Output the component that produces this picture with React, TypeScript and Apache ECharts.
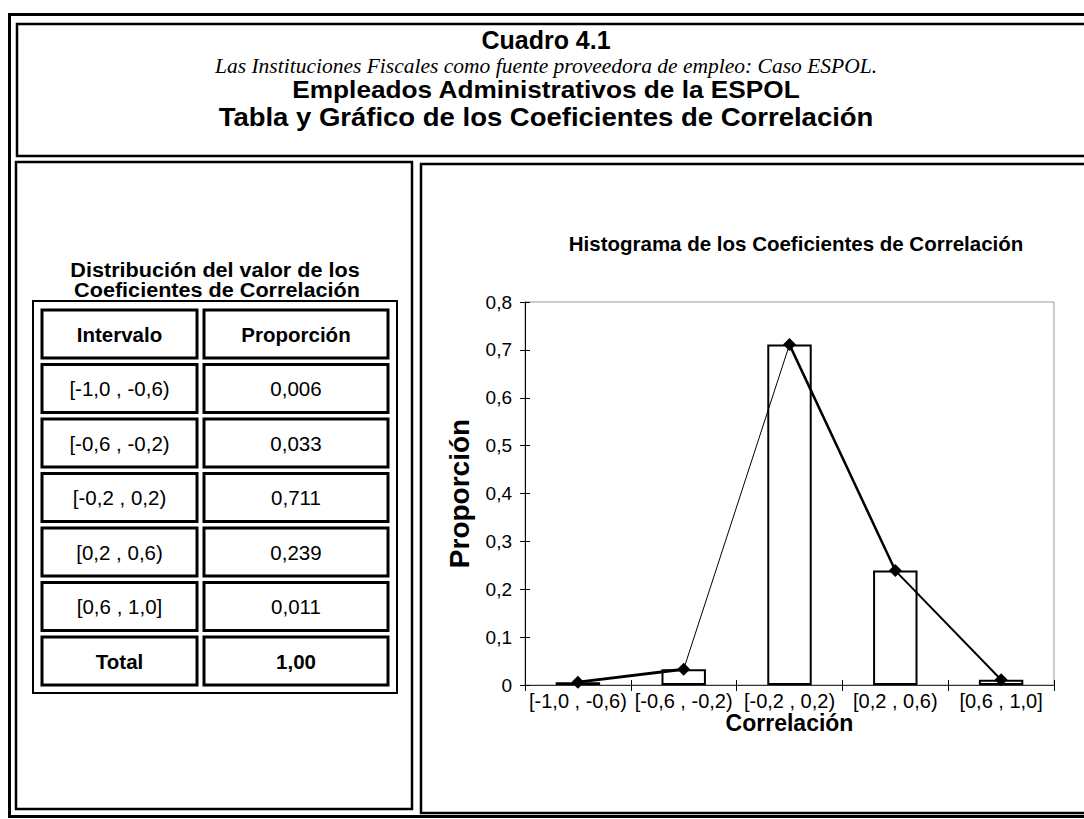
import React, { useEffect, useRef } from "react";
import * as echarts from "echarts";

const categories = ["[-1,0 , -0,6)", "[-0,6 , -0,2)", "[-0,2 , 0,2)", "[0,2 , 0,6)", "[0,6 , 1,0]"];
const proportions = [0.006, 0.033, 0.711, 0.239, 0.011];
const totalLabel = "1,00";
const tableHeader = ["Intervalo", "Proporción"];
const segmentWidths = [3, 1, 2.5, 2];

const titleLines = [
  "Cuadro 4.1",
  "Las Instituciones Fiscales como fuente proveedora de empleo: Caso ESPOL.",
  "Empleados Administrativos de la ESPOL",
  "Tabla y Gráfico de los Coeficientes de Correlación",
];
const tableTitle = ["Distribución del valor de los", "Coeficientes de Correlación"];
const chartTitle = "Histograma de los Coeficientes de Correlación";

const SANS = "'Liberation Sans', Arial, sans-serif";
const SERIF = "'Liberation Serif', 'Times New Roman', serif";

const fmt = (v: number, d: number) => (v === 0 ? "0" : v.toFixed(d).replace(".", ","));

function txt(
  text: string,
  x: number,
  y: number,
  size: number,
  weight = "normal",
  family = SANS,
  style = "normal",
  scaleX = 1
) {
  return {
    type: "text",
    x,
    y,
    scaleX,
    z: 10,
    style: {
      text,
      fontSize: size,
      fontWeight: weight,
      fontFamily: family,
      fontStyle: style,
      fill: "#000",
      align: "center",
      verticalAlign: "middle",
    },
  };
}

function box(x: number, y: number, w: number, h: number, lw: number) {
  return {
    type: "rect",
    shape: { x, y, width: w, height: h },
    style: { fill: "none", stroke: "#000", lineWidth: lw },
    z: 5,
  };
}

export default function App() {
  const ref = useRef<HTMLDivElement>(null);
  useEffect(() => {
    if (!ref.current) return;
    const chart = echarts.init(ref.current, undefined, { renderer: "svg" });

    const graphics: any[] = [];
    // frames
    graphics.push(box(9.5, 14.5, 1100, 802, 3));
    graphics.push(box(17, 24, 1100, 132, 2.5));
    graphics.push(box(16, 162, 396, 647, 2.5));
    graphics.push(box(421, 164, 700, 649, 2.5));

    // title lines
    const cx = 546;
    graphics.push(txt(titleLines[0], cx, 40, 25, "bold"));
    graphics.push(txt(titleLines[1], cx, 66, 21.5, "normal", SERIF, "italic"));
    graphics.push(txt(titleLines[2], cx, 90, 23, "bold", SANS, "normal", 1.14));
    graphics.push(txt(titleLines[3], cx, 117, 25, "bold", SANS, "normal", 1.1));

    // table title
    graphics.push(txt(tableTitle[0], 215, 270, 21, "bold", SANS, "normal", 1.03));
    graphics.push(txt(tableTitle[1], 217, 290, 21, "bold", SANS, "normal", 1.03));

    // table
    graphics.push(box(33, 301, 364, 392, 2));
    const rows: string[][] = [tableHeader];
    categories.forEach((c, i) => rows.push([c, fmt(proportions[i], 3)]));
    rows.push(["Total", totalLabel]);
    const colX = [42, 204];
    const colW = [155, 184];
    rows.forEach((r, i) => {
      const y = 310 + i * 54.5;
      const bold = i === 0 || i === rows.length - 1;
      r.forEach((t, j) => {
        graphics.push({
          type: "rect",
          shape: { x: colX[j], y, width: colW[j], height: 48 },
          style: { fill: "#fff", stroke: "#000", lineWidth: 3 },
          z: 6,
        });
        graphics.push(txt(t, colX[j] + colW[j] / 2, y + 24, 20.5, bold ? "bold" : "normal"));
      });
    });

    // chart title
    graphics.push(txt(chartTitle, 796, 243, 20.5, "bold"));

    const segSeries = segmentWidths.map((w, i) => ({
      type: "line",
      data: proportions.map((v, k) => (k === i || k === i + 1 ? v : null)),
      symbol: "none",
      lineStyle: { color: "#000", width: w },
      z: 4,
      connectNulls: false,
    }));

    chart.setOption({
      animation: false,
      graphic: graphics,
      grid: {
        left: 525,
        top: 302,
        width: 529,
        height: 383,
        show: true,
        borderColor: "#999",
        borderWidth: 1,
        backgroundColor: "transparent",
      },
      xAxis: [
        {
          type: "category",
          data: categories,
          boundaryGap: true,
          axisLine: { lineStyle: { color: "#333", width: 1 } },
          axisTick: { show: true, length: 6, lineStyle: { color: "#000" } },
          axisLabel: { color: "#000", fontSize: 20, fontFamily: SANS, margin: 6, interval: 0 },
          name: "Correlación",
          nameLocation: "middle",
          nameGap: 26,
          nameTextStyle: { color: "#000", fontSize: 23, fontWeight: "bold", fontFamily: SANS },
          splitLine: { show: false },
        },
        {
          type: "category",
          data: categories,
          position: "bottom",
          boundaryGap: true,
          axisLine: { show: false },
          axisTick: { show: true, inside: true, length: 5, lineStyle: { color: "#000" } },
          axisLabel: { show: false },
          splitLine: { show: false },
        },
      ],
      yAxis: [
        {
          type: "value",
          min: 0,
          max: 0.8,
          interval: 0.1,
          axisLine: { show: true, lineStyle: { color: "#000", width: 1 } },
          axisTick: { show: true, length: 5, lineStyle: { color: "#000" } },
          axisLabel: {
            color: "#000",
            fontSize: 19,
            fontFamily: SANS,
            margin: 13,
            formatter: (v: number) => fmt(v, 1),
          },
          splitLine: { show: false },
          name: "Proporción",
          nameLocation: "middle",
          nameGap: 52,
          nameTextStyle: { color: "#000", fontSize: 28, fontWeight: "bold", fontFamily: SANS },
        },
        {
          type: "value",
          min: 0,
          max: 0.8,
          interval: 0.1,
          position: "left",
          axisLine: { show: false },
          axisTick: { show: true, inside: true, length: 5, lineStyle: { color: "#000" } },
          axisLabel: { show: false },
          splitLine: { show: false },
        },
      ],
      series: [
        {
          type: "bar",
          data: proportions,
          barWidth: "42%",
          itemStyle: { color: "#fff", borderColor: "#000", borderWidth: 2 },
          z: 2,
        },
        ...segSeries,
        {
          type: "line",
          data: proportions,
          symbol: "diamond",
          symbolSize: 13,
          itemStyle: { color: "#000" },
          lineStyle: { width: 0, opacity: 0 },
          z: 5,
        },
      ],
    });

    return () => chart.dispose();
  }, []);

  return (
    <div
      ref={ref}
      style={{ position: "fixed", left: 0, top: 0, width: 1084, height: 819, background: "#fff" }}
    />
  );
}
